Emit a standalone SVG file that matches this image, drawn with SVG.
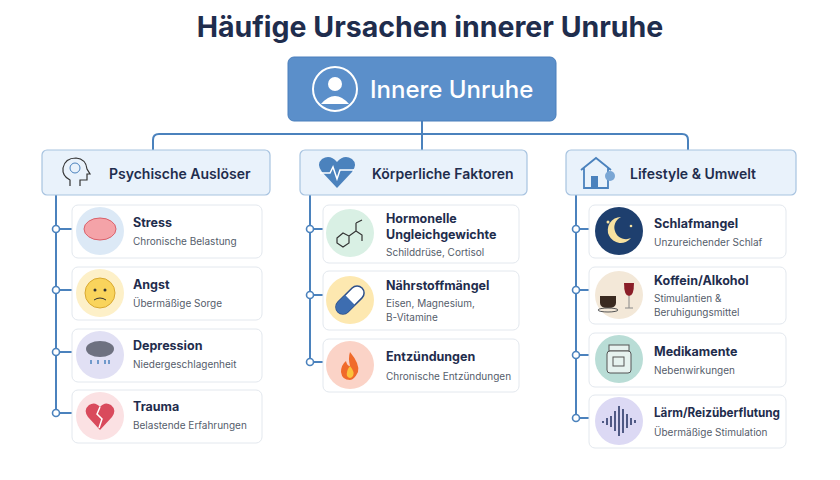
<svg xmlns="http://www.w3.org/2000/svg" width="840" height="480" viewBox="0 0 840 480">
<style>
text{font-family:"Inter","Liberation Sans",sans-serif}
.t{font-size:12.5px;font-weight:700;fill:#1f2d4d}
.s{font-size:10px;fill:#555d6b}
.card{fill:#fff;stroke:#e3e8ee;stroke-width:1}
.cat{fill:#e9f2fb;stroke:#a7c3e0;stroke-width:1.2}
.ct{font-size:14px;font-weight:600;fill:#1f2d4d}
.ln{fill:none;stroke:#4b82bd;stroke-width:2}
.dot{fill:#fff;stroke:#4b82bd;stroke-width:1.6}
</style>
<rect width="840" height="480" fill="#fff"/>
<text x="430" y="37" text-anchor="middle" font-size="28.5" font-weight="700" fill="#1f2d4d">Häufige Ursachen innerer Unruhe</text>

<g id="connectors">
<path class="ln" d="M422 121V134M153 150V140Q153 134 159 134H682Q688 134 688 140V150M422 134V150"/>
<path class="ln" d="M56 195V413M310 195V362M576 195V418"/>
<path class="ln" d="M56 229H72M56 290H72M56 352H72M56 413H72M310 229H323M310 295H323M310 362H323M576 229H589M576 290H589M576 355H589M576 418H589"/>
<circle class="dot" cx="56" cy="229" r="3.5"/><circle class="dot" cx="56" cy="290" r="3.5"/><circle class="dot" cx="56" cy="352" r="3.5"/><circle class="dot" cx="56" cy="413" r="3.5"/>
<circle class="dot" cx="310" cy="229" r="3.5"/><circle class="dot" cx="310" cy="295" r="3.5"/><circle class="dot" cx="310" cy="362" r="3.5"/>
<circle class="dot" cx="576" cy="229" r="3.5"/><circle class="dot" cx="576" cy="290" r="3.5"/><circle class="dot" cx="576" cy="355" r="3.5"/><circle class="dot" cx="576" cy="418" r="3.5"/>
</g>

<g id="root">
<rect x="288" y="57" width="268" height="64" rx="6" fill="#5b8fca" stroke="#4a7fbc"/>
<circle cx="335" cy="89" r="22" fill="none" stroke="#fff" stroke-width="2"/>
<circle cx="335" cy="84" r="7" fill="#fff"/>
<path d="M321 104Q335 88 349 104Z" fill="#fff"/>
<text x="370" y="98" font-size="24" font-weight="500" fill="#fff">Innere Unruhe</text>
</g>

<g id="cat1"><rect class="cat" x="42" y="150" width="228" height="45" rx="5"/>
<path d="M70 186V180Q62 176 63 168Q65 158 76 158Q86 159 87 169L90 174H87V180H80V186" fill="none" stroke="#333" stroke-width="1.2"/>
<circle cx="75" cy="168" r="5" fill="none" stroke="#4b82bd"/>
<text class="ct" x="109" y="179">Psychische Auslöser</text></g>
<g id="cat2"><rect class="cat" x="300" y="150" width="227" height="45" rx="5"/>
<path d="M337 188L322 172Q316 164 322 159Q330 154 337 162Q344 154 352 159Q358 164 352 172Z" fill="#4b82bd"/>
<path d="M320 173H330L333 167L337 179L340 170H354" fill="none" stroke="#fff" stroke-width="1.5"/>
<text class="ct" x="372" y="179">Körperliche Faktoren</text></g>
<g id="cat3"><rect class="cat" x="566" y="150" width="230" height="45" rx="5"/>
<path d="M581 170L596 158L611 170M584 168V188H608V168" fill="none" stroke="#4b82bd" stroke-width="1.8"/>
<rect x="591" y="176" width="7" height="12" fill="#4b82bd"/>
<circle cx="610" cy="176" r="5" fill="#7aa6d4"/>
<text class="ct" x="630" y="179">Lifestyle &amp; Umwelt</text></g>

<g id="stress"><rect class="card" x="72" y="205" width="190" height="53" rx="6"/><circle cx="100" cy="231" r="24" fill="#dce9f6"/><ellipse cx="100" cy="229" rx="16" ry="11" fill="#f4a3a8" stroke="#d9606a"/><text class="t" x="133" y="227">Stress</text><text class="s" x="133" y="245">Chronische Belastung</text></g>
<g id="angst"><rect class="card" x="72" y="267" width="190" height="53" rx="6"/><circle cx="100" cy="293" r="24" fill="#fdf0c8"/><circle cx="100" cy="293" r="15" fill="#f9d45c" stroke="#d8a830"/><circle cx="95" cy="290" r="1.5" fill="#333"/><circle cx="105" cy="290" r="1.5" fill="#333"/><path d="M94 300Q100 296 106 300" fill="none" stroke="#333"/><text class="t" x="133" y="289">Angst</text><text class="s" x="133" y="307">Übermäßige Sorge</text></g>
<g id="depression"><rect class="card" x="72" y="329" width="190" height="53" rx="6"/><circle cx="100" cy="355" r="24" fill="#e1e0f4"/><ellipse cx="100" cy="349" rx="14" ry="8" fill="#6e7180"/><path d="M91 360v4M98 360v4M105 360v4M109 360v4" stroke="#4b82bd" stroke-width="1.5"/><text class="t" x="133" y="350">Depression</text><text class="s" x="133" y="368">Niedergeschlagenheit</text></g>
<g id="trauma"><rect class="card" x="72" y="390" width="190" height="53" rx="6"/><circle cx="100" cy="416" r="24" fill="#fbe1e3"/><path d="M100 430L88 417Q83 410 89 405Q95 401 100 407Q105 401 111 405Q117 410 112 417Z" fill="#d94a5c"/><path d="M100 407L97 414L102 419L99 428" fill="none" stroke="#fff" stroke-width="1.5"/><text class="t" x="133" y="411">Trauma</text><text class="s" x="133" y="429">Belastende Erfahrungen</text></g>

<g id="hormon"><rect class="card" x="323" y="205" width="196" height="58" rx="6"/><circle cx="350" cy="233" r="24" fill="#d9f0e4"/><path d="M337 238l6-5 6 3v7l-6 4-6-4zM349 236l7-5v-8M356 231l6 4v6M356 223l6-3" fill="none" stroke="#333" stroke-width="1.2"/><text class="t" x="386" y="223">Hormonelle</text><text class="t" x="386" y="239">Ungleichgewichte</text><text class="s" x="386" y="256">Schilddrüse, Cortisol</text></g>
<g id="naehr"><rect class="card" x="323" y="271" width="196" height="59" rx="6"/><circle cx="350" cy="300" r="24" fill="#fde8b0"/><g transform="rotate(-45 350 300)"><rect x="333" y="293" width="34" height="14" rx="7" fill="#fff" stroke="#2d4f8a" stroke-width="1.5"/><path d="M340 293H350V307H340A7 7 0 0 1 340 293Z" fill="#3d6db0"/></g><text class="t" x="386" y="290">Nährstoffmängel</text><text class="s" x="386" y="307">Eisen, Magnesium,</text><text class="s" x="386" y="321">B-Vitamine</text></g>
<g id="entz"><rect class="card" x="323" y="339" width="196" height="53" rx="6"/><circle cx="350" cy="365" r="24" fill="#fbd3c7"/><path d="M350 352Q360 364 358 372Q354 380 350 380Q342 380 341 372Q341 365 346 361Q347 366 350 366Q348 358 350 352Z" fill="#f06a2a"/><path d="M350 366Q355 372 353 376Q350 380 347 376Q346 371 350 366Z" fill="#fbc23a"/><text class="t" x="386" y="361">Entzündungen</text><text class="s" x="386" y="380">Chronische Entzündungen</text></g>

<g id="schlaf"><rect class="card" x="589" y="205" width="197" height="53" rx="6"/><circle cx="619" cy="231" r="24" fill="#1e3f6e"/><path d="M621 217A13 13 0 1 0 631 238A11 11 0 1 1 621 217Z" fill="#f7e1a0"/><circle cx="608" cy="222" r="1.5" fill="#f7e1a0"/><circle cx="631" cy="226" r="1.3" fill="#f7e1a0"/><text class="t" x="654" y="228">Schlafmangel</text><text class="s" x="654" y="246">Unzureichender Schlaf</text></g>
<g id="koffein"><rect class="card" x="589" y="267" width="197" height="57" rx="6"/><circle cx="619" cy="295" r="24" fill="#f3e8d8"/><path d="M600 296H616V303Q616 308 608 308Q600 308 600 303Z" fill="#3a2a20"/><ellipse cx="608" cy="310" rx="10" ry="2" fill="none" stroke="#555"/><path d="M624 283H634Q634 296 629 296Q624 296 624 283Z" fill="#8a1e28"/><path d="M629 296V308M625 308H633" stroke="#888"/><text class="t" x="654" y="285">Koffein/Alkohol</text><text class="s" x="654" y="302">Stimulantien &amp;</text><text class="s" x="654" y="316">Beruhigungsmittel</text></g>
<g id="medik"><rect class="card" x="589" y="333" width="197" height="54" rx="6"/><circle cx="619" cy="359" r="24" fill="#b9ddd6"/><rect x="609" y="345" width="20" height="6" fill="#e6f2ef" stroke="#555"/><rect x="607" y="351" width="24" height="22" rx="3" fill="#e6f2ef" stroke="#555"/><rect x="613" y="357" width="11" height="9" fill="none" stroke="#555"/><text class="t" x="654" y="356">Medikamente</text><text class="s" x="654" y="374">Nebenwirkungen</text></g>
<g id="laerm"><rect class="card" x="589" y="395" width="197" height="53" rx="6"/><circle cx="619" cy="421" r="24" fill="#dcd9f4"/><path d="M603 421v2M607 418v7M611 416v11M615 411v20M619 406v30M623 409v24M627 414v14M631 418v7M635 420v3" stroke="#2d3a6a" stroke-width="1.6"/><text class="t" x="654" y="417" textLength="126" lengthAdjust="spacingAndGlyphs">Lärm/Reizüberflutung</text><text class="s" x="654" y="436">Übermäßige Stimulation</text></g>
</svg>
